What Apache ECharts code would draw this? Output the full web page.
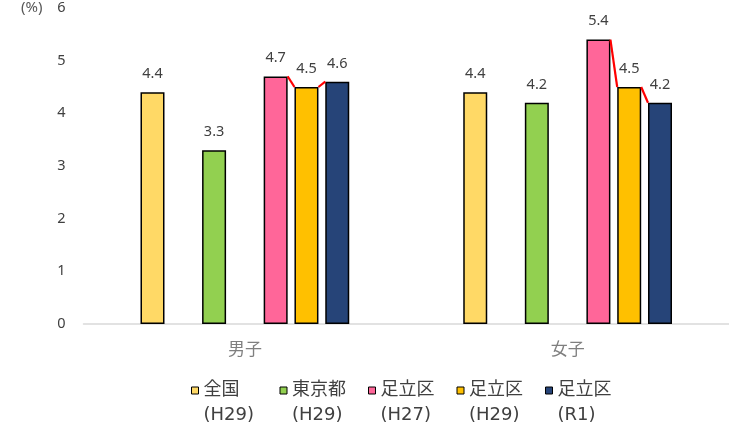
<!DOCTYPE html>
<html>
<head>
<meta charset="utf-8">
<script src="https://cdn.jsdelivr.net/npm/echarts@6/dist/echarts.min.js"></script>
<style>
html,body{margin:0;padding:0;background:#fff;}
#main{width:729px;height:426px;}
</style>
</head>
<body>
<div id="main"></div>
<script>
// ---- data ----
var categories = ['男子', '女子'];
var seriesNames = ['全国\n(H29)', '東京都\n(H29)', '足立区\n(H27)', '足立区\n(H29)', '足立区\n(R1)'];
var zenkokuH29 = [4.4, 4.4];
var tokyoH29 = [3.3, 4.2];
var adachiH27 = [4.7, 5.4];
var adachiH29 = [4.5, 4.5];
var adachiR1 = [4.6, 4.2];
var yTicks = [0, 1, 2, 3, 4, 5, 6];

// ---- styles ----
var colors = ['#FFD966', '#92D050', '#FF6699', '#FFC000', '#264478'];
var BAR_W = 24;
var GAP = 0.283;
var FONT = '"Noto Sans", "Noto Sans CJK JP", sans-serif';
var JPFONT = '"Noto Sans CJK JP", sans-serif';
var LEGFONT = '"DejaVu Sans", "Noto Sans CJK JP", sans-serif';

function barSeries(name, data, color) {
  return {
    name: name,
    type: 'bar',
    data: data,
    barWidth: BAR_W,
    barGap: (GAP * 100) + '%',
    itemStyle: { color: color, borderColor: '#000', borderWidth: 1.5 },
    label: {
      show: true, position: 'top', distance: 11,
      fontSize: 14.5, color: '#404040', fontFamily: FONT,
      formatter: function (p) { return p.value.toFixed(1); }
    },
    z: 2
  };
}
function spacer() {
  return { name: '', type: 'bar', data: categories.map(function () { return '-'; }),
           barWidth: BAR_W, barGap: (GAP * 100) + '%', silent: true };
}

var lineData = categories.map(function (c, i) {
  return [i, adachiH27[i], adachiH29[i], adachiR1[i]];
});

var chart = echarts.init(document.getElementById('main'));
chart.setOption({
  backgroundColor: '#fff',
  animation: false,
  grid: { left: 83.5, top: 8, width: 650, bottom: 102, containLabel: false },
  legend: {
    data: seriesNames,
    left: 191, top: 353,
    padding: 0,
    itemWidth: 7, itemHeight: 7, itemGap: 12,
    icon: 'rect',
    itemStyle: { borderColor: '#000', borderWidth: 1 },
    formatter: function (name) { return '\n' + name; },
    textStyle: { fontFamily: LEGFONT, fontSize: 18, color: '#404040', lineHeight: 25, width: 64 }
  },
  xAxis: {
    type: 'category', data: categories,
    axisLine: { lineStyle: { color: '#D9D9D9', width: 1.5 } },
    axisTick: { show: false },
    axisLabel: { fontFamily: JPFONT, fontSize: 17, color: '#7F7F7F', margin: 16 }
  },
  yAxis: {
    type: 'value', min: yTicks[0], max: yTicks[yTicks.length - 1], interval: 1,
    name: '(%)', nameLocation: 'end', nameGap: 0,
    nameTextStyle: { fontFamily: FONT, fontSize: 15, color: '#595959', align: 'right',
                     verticalAlign: 'middle', padding: [0, 41, 0, 0] },
    axisLine: { show: false }, axisTick: { show: false }, splitLine: { show: false },
    axisLabel: { fontFamily: FONT, fontSize: 14.5, color: '#404040', margin: 18 }
  },
  series: [
    barSeries(seriesNames[0], zenkokuH29, colors[0]),
    spacer(),
    barSeries(seriesNames[1], tokyoH29, colors[1]),
    spacer(),
    barSeries(seriesNames[2], adachiH27, colors[2]),
    barSeries(seriesNames[3], adachiH29, colors[3]),
    barSeries(seriesNames[4], adachiR1, colors[4]),
    {
      type: 'custom', name: 'connector', data: lineData,
      encode: { x: 0, y: [1, 2, 3] }, z: 5, silent: true,
      renderItem: function (params, api) {
        var idx = api.value(0);
        var cx = api.coord([idx, 0])[0];
        var pitch = BAR_W * (1 + GAP);
        var half = BAR_W / 2;
        var p1 = api.coord([idx, api.value(1)]);
        var p2 = api.coord([idx, api.value(2)]);
        var p3 = api.coord([idx, api.value(3)]);
        var x4 = cx + 1 * pitch, x5 = cx + 2 * pitch, x6 = cx + 3 * pitch;
        var st = { stroke: '#FF0000', lineWidth: 2.2, fill: null };
        return {
          type: 'group',
          children: [
            { type: 'line', shape: { x1: x4 + half, y1: p1[1], x2: x5 - half, y2: p2[1] }, style: st },
            { type: 'line', shape: { x1: x5 + half, y1: p2[1], x2: x6 - half, y2: p3[1] }, style: st }
          ]
        };
      }
    }
  ]
});
</script>
</body>
</html>
